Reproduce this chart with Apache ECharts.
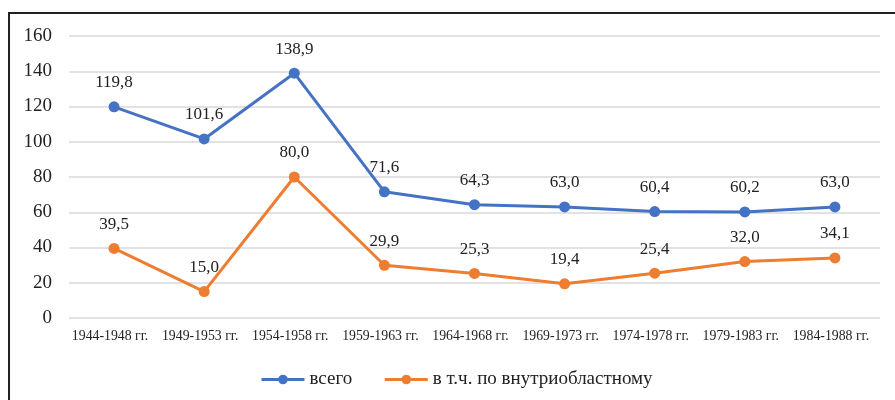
<!DOCTYPE html>
<html>
<head>
<meta charset="utf-8">
<script src="https://cdn.jsdelivr.net/npm/echarts@6/dist/echarts.min.js"></script>
<style>
  * { margin: 0; padding: 0; }
  html, body { width: 895px; height: 400px; background: #fff; }
  #chart { width: 895px; height: 400px; }
</style>
</head>
<body>
<div id="chart"></div>
<script>
const periods = ['1944-1948 гг.', '1949-1953 гг.', '1954-1958 гг.', '1959-1963 гг.', '1964-1968 гг.',
  '1969-1973 гг.', '1974-1978 гг.', '1979-1983 гг.', '1984-1988 гг.']
const total = [119.8, 101.6, 138.9, 71.6, 64.3, 63.0, 60.4, 60.2, 63.0]
const inner = [39.5, 15.0, 80.0, 29.9, 25.3, 19.4, 25.4, 32.0, 34.1]

const serif = '"Liberation Serif", "Times New Roman", serif'
const fmt = p => p.value.toFixed(1).replace('.', ',')

const chart = echarts.init(document.getElementById('chart'))
chart.setOption({
  animation: false,
  textStyle: { fontFamily: serif },
  graphic: [
    // рамка слева и сверху
    { type: 'rect', shape: { x: 8, y: 12, width: 2, height: 400 }, style: { fill: '#222' } },
    { type: 'rect', shape: { x: 8, y: 12, width: 900, height: 2 }, style: { fill: '#222' } }
  ],
  grid: { left: 69, right: 15, top: 36, bottom: 82 },
  legend: {
    bottom: 6,
    left: 255,
    itemWidth: 43,
    itemHeight: 12,
    itemGap: 31,
    lineStyle: { width: 3 },
    textStyle: { fontFamily: serif, fontSize: 19, color: '#222' },
    data: ['всего', 'в т.ч. по внутриобластному']
  },
  xAxis: {
    type: 'category',
    data: periods,
    boundaryGap: true,
    axisLine: { show: false },
    axisTick: { show: false },
    axisLabel: { interval: 0, fontFamily: serif, fontSize: 13.8, color: '#222', margin: 11, padding: [0, 8, 0, 0] }
  },
  yAxis: {
    type: 'value',
    min: 0,
    max: 160,
    interval: 20,
    axisLine: { show: false },
    axisTick: { show: false },
    axisLabel: { fontFamily: serif, fontSize: 19, color: '#222', margin: 17 },
    splitLine: { lineStyle: { color: '#d9d9d9', width: 1.5 } }
  },
  series: [
    {
      name: 'всего',
      type: 'line',
      data: total,
      symbol: 'circle',
      symbolSize: 11,
      lineStyle: { width: 3, color: '#4472c4' },
      itemStyle: { color: '#4472c4' },
      label: { show: true, position: 'top', distance: 10, formatter: fmt, fontFamily: serif, fontSize: 17, color: '#222' }
    },
    {
      name: 'в т.ч. по внутриобластному',
      type: 'line',
      data: inner,
      symbol: 'circle',
      symbolSize: 11,
      lineStyle: { width: 3, color: '#ed7d31' },
      itemStyle: { color: '#ed7d31' },
      label: { show: true, position: 'top', distance: 10, formatter: fmt, fontFamily: serif, fontSize: 17, color: '#222' }
    }
  ]
})
</script>
</body>
</html>
